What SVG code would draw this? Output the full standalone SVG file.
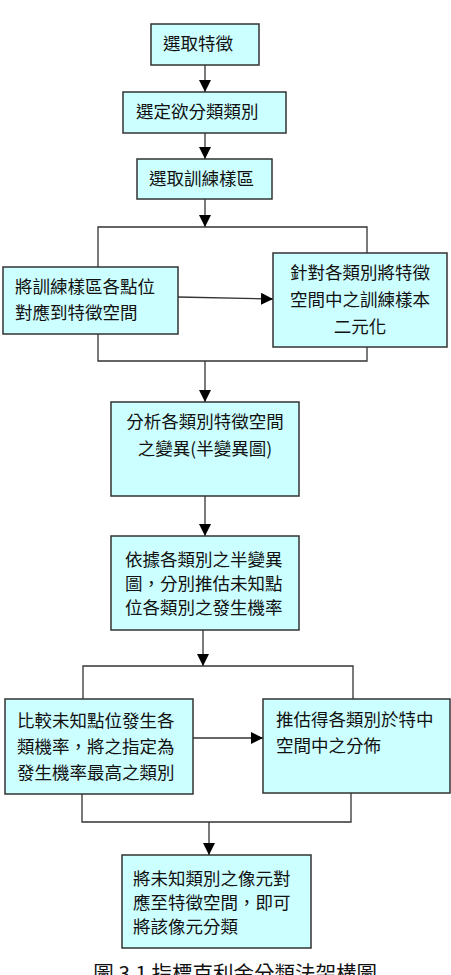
<svg xmlns="http://www.w3.org/2000/svg" width="451" height="975" viewBox="0 0 451 975">
<defs>
<marker id="ah" viewBox="0 0 12 12" refX="12" refY="6" markerWidth="12" markerHeight="12" markerUnits="userSpaceOnUse" orient="auto">
<path d="M0,0 L12,6 L0,12 Z" fill="#000"/>
</marker>
</defs>
<style>
.box{fill:#ccffff;stroke:#333;stroke-width:1.5}
.t{font-family:"Noto Sans CJK TC","Noto Sans CJK SC",sans-serif;font-size:17.5px;fill:#111}
.c{text-anchor:middle}
.ln{fill:none;stroke:#333;stroke-width:1.3}
.ar{fill:none;stroke:#333;stroke-width:1.3;marker-end:url(#ah)}
</style>
<rect width="451" height="975" fill="#fff"/>
<g id="connectors">
<line class="ar" x1="205" y1="65" x2="205" y2="92"/>
<line class="ar" x1="205" y1="133" x2="205" y2="159"/>
<line class="ar" x1="205" y1="199" x2="205" y2="227"/>
<polyline class="ln" points="98,267 98,227 367,227 367,253"/>
<polyline class="ln" points="98,334 98,361 367,361 367,347"/>
<line class="ar" x1="178" y1="297" x2="273" y2="299"/>
<line class="ar" x1="205" y1="361" x2="205" y2="402"/>
<line class="ar" x1="205" y1="496" x2="205" y2="536"/>
<line class="ar" x1="203" y1="630" x2="203" y2="666"/>
<polyline class="ln" points="83,699 83,666 353,666 353,699"/>
<polyline class="ln" points="82,794 82,822 351,822 351,793"/>
<line class="ar" x1="193" y1="738" x2="263" y2="738"/>
<line class="ar" x1="209" y1="822" x2="209" y2="855"/>
</g>
<g id="n1"><rect class="box" x="151" y="24" width="108" height="41"/><text class="t" x="163" y="50">選取特徵</text></g>
<g id="n2"><rect class="box" x="123" y="92" width="163" height="41"/><text class="t" x="136" y="118">選定欲分類類別</text></g>
<g id="n3"><rect class="box" x="137" y="159" width="135" height="40"/><text class="t" x="149" y="185">選取訓練樣區</text></g>
<g id="n4"><rect class="box" x="3" y="267" width="175" height="67"/><text class="t" x="15" y="293">將訓練樣區各點位</text><text class="t" x="15" y="319">對應到特徵空間</text></g>
<g id="n5"><rect class="box" x="273" y="253" width="174" height="94"/><text class="t c" x="360" y="279">針對各類別將特徵</text><text class="t c" x="360" y="306">空間中之訓練樣本</text><text class="t c" x="360" y="333">二元化</text></g>
<g id="n6"><rect class="box" x="111" y="402" width="188" height="94"/><text class="t c" x="205" y="428">分析各類別特徵空間</text><text class="t c" x="205" y="455">之變異(半變異圖)</text></g>
<g id="n7"><rect class="box" x="111" y="536" width="188" height="94"/><text class="t" x="125" y="566">依據各類別之半變異</text><text class="t" x="125" y="590">圖，分別推估未知點</text><text class="t" x="125" y="614">位各類別之發生機率</text></g>
<g id="n8"><rect class="box" x="5" y="699" width="188" height="95"/><text class="t" x="17" y="727">比較未知點位發生各</text><text class="t" x="17" y="753">類機率，將之指定為</text><text class="t" x="17" y="779">發生機率最高之類別</text></g>
<g id="n9"><rect class="box" x="263" y="699" width="187" height="94"/><text class="t" x="276" y="726">推估得各類別於特中</text><text class="t" x="276" y="752">空間中之分佈</text></g>
<g id="n10"><rect class="box" x="122" y="855" width="189" height="93"/><text class="t" x="133" y="885">將未知類別之像元對</text><text class="t" x="133" y="909">應至特徵空間，即可</text><text class="t" x="133" y="933">將該像元分類</text></g>
<text class="t" x="377" y="981" style="font-size:20.5px;text-anchor:end">圖 3.1 指標克利金分類法架構圖</text>
</svg>
